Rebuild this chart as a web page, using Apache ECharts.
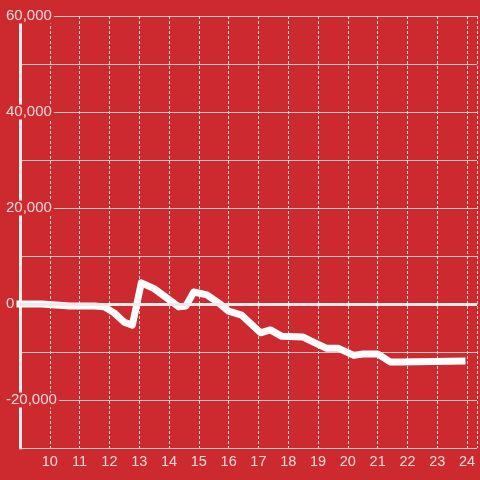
<!DOCTYPE html>
<html>
<head>
<meta charset="utf-8">
<script src="https://cdn.jsdelivr.net/npm/echarts@6/dist/echarts.min.js"></script>
<style>html,body{margin:0;padding:0;background:#cc2a2f;}#c{width:480px;height:480px;}</style>
</head>
<body>
<div id="c"></div>
<script>
// x positions (hour of day) and values
var hours = [9.0, 9.73, 10.67, 11.5, 11.83, 12.17, 12.5, 12.77, 13.07, 13.5, 14.33, 14.57, 14.83, 15.27, 15.67, 16.0, 16.43, 17.07, 17.4, 17.77, 18.5, 18.83, 19.27, 19.67, 20.2, 20.5, 21.0, 21.43, 21.77, 23.83];
var values = [0, 0, -400, -400, -600, -1900, -3800, -4400, 4400, 3200, -600, -400, 2500, 1900, 200, -1500, -2300, -6000, -5400, -6700, -6900, -7900, -9200, -9200, -10700, -10400, -10400, -12100, -12100, -11900];
var yTickLabels = [60000, 40000, 20000, 0, -20000];
var xTickLabels = [10, 11, 12, 13, 14, 15, 16, 17, 18, 19, 20, 21, 22, 23, 24];

var bg = '#cc2a2f';
var points = hours.map(function (h, i) { return [h, values[i]]; });

var chart = echarts.init(document.getElementById('c'), null, {renderer: 'canvas'});
chart.setOption({
  backgroundColor: bg,
  animation: false,
  grid: {left: 20, right: 0, top: 16, bottom: 32, containLabel: false},
  xAxis: {
    type: 'value', min: 9, max: 9 + 460 / 30, interval: 1,
    axisLine: {show: true, lineStyle: {color: '#d9d0d0', width: 1}},
    axisTick: {show: false},
    axisLabel: {
      color: '#f3dada', fontSize: 14.5, fontFamily: 'Liberation Sans, Arial, sans-serif', margin: 6,
      showMinLabel: true, showMaxLabel: true,
      formatter: function (v) { return xTickLabels.indexOf(v) >= 0 ? String(v) : ''; }
    },
    splitLine: {show: true, lineStyle: {color: '#e8d6d6', width: 1, type: [3, 2]}}
  },
  yAxis: {
    type: 'value', min: -30000, max: 60000, interval: 10000,
    axisLine: {show: true, lineStyle: {color: '#f2eded', width: 3}},
    axisTick: {show: false},
    axisLabel: {
      color: '#f3dada', fontSize: 15, fontFamily: 'Liberation Sans, Arial, sans-serif',
      align: 'left', margin: 14,
      formatter: function (v) { return yTickLabels.indexOf(v) >= 0 ? v.toLocaleString('en-US') : ''; },
      backgroundColor: bg, padding: [0, 2, 0, 0], lineHeight: 15
    },
    splitLine: {show: true, lineStyle: {color: '#d4c8c8', width: 1}}
  },
  series: [{
    type: 'line',
    data: points,
    showSymbol: false,
    symbol: 'none',
    smooth: false,
    clip: false,
    lineStyle: {color: '#ffffff', width: 7, cap: 'square', join: 'round'},
    markLine: {
      silent: true, symbol: 'none', label: {show: false},
      lineStyle: {color: '#f2eaea', width: 3, type: 'solid'},
      data: [{yAxis: 0}]
    },
    z: 3
  }]
});
</script>
</body>
</html>
